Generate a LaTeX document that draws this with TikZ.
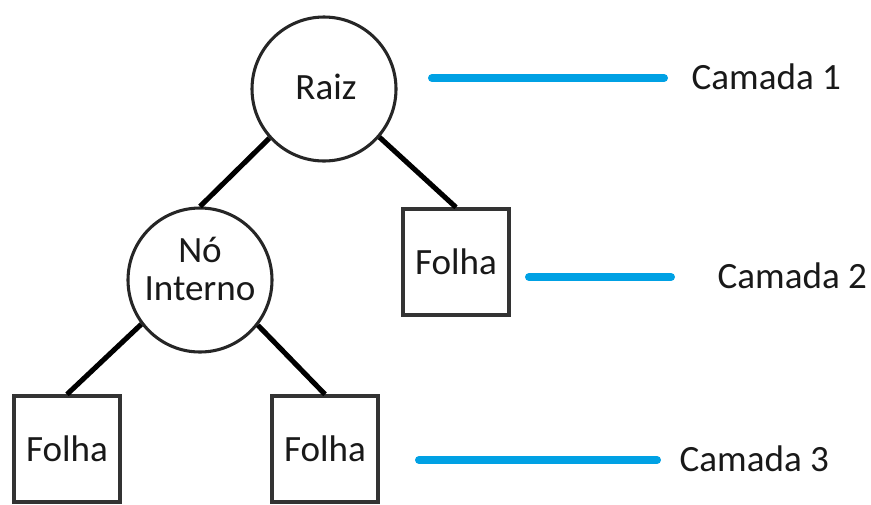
\documentclass[tikz,border=0pt]{standalone}
\usepackage{fontspec}
\setmainfont{Carlito}
\usepackage{tikz}
\usetikzlibrary{shapes,calc}
\definecolor{camadablue}{RGB}{0,161,228}

\begin{document}
\begin{tikzpicture}[x=0.75pt, y=-0.75pt]
\tikzstyle{txt}=[font=\fontsize{27.8}{30}\selectfont, text=black!90]
\tikzstyle{main}=[circle, draw=black!85, line width=2.3pt, fill=white, inner sep=0pt, minimum size=108pt, align=center, txt]
\tikzstyle{leaf}=[rectangle, draw=black!80, line width=3pt, fill=white, inner sep=0pt, minimum size=79pt, txt]
\tikzstyle{connect}=[line width=3.8pt, black]
\tikzstyle{layer}=[line width=6pt, camadablue, line cap=round]

  \useasboundingbox (0,0) rectangle (871,504);

  \coordinate (raizc) at (324,89);
  \coordinate (noc)   at (200,280);

  \node[main] (raiz) at (raizc) {};
  \node[txt]  (raiztxt) at ($(raizc)+(2,-2)$) {Raiz};
  \node[main] (no)   at (noc)   {};
  \node[txt, align=center] (notxt) at ($(noc)+(0,-11)$) {N\'o\\[-1pt]Interno};

  \node[leaf] (folhaA) at (456,262) {Folha};
  \node[leaf] (folhaB) at (67,449)  {Folha};
  \node[leaf] (folhaC) at (325,449) {Folha};

  \path (raiz.222) edge [connect] (no.north);
  \path (raiz.319) edge [connect] (folhaA.north);
  \path (no.217)   edge [connect] (folhaB.north);
  \path (no.322)   edge [connect] (folhaC.north);

  % layer markers
  \coordinate (c1a) at (432,78);
  \coordinate (c1b) at (664,78);
  \coordinate (c2a) at (529,277);
  \coordinate (c2b) at (671,277);
  \coordinate (c3a) at (419,460);
  \coordinate (c3b) at (657,460);

  \draw[layer] (c1a) -- (c1b);
  \draw[layer] (c2a) -- (c2b);
  \draw[layer] (c3a) -- (c3b);

  \node[txt, anchor=west] (cam1) at (687,77)  {Camada 1};
  \node[txt, anchor=west] (cam2) at (713,276) {Camada 2};
  \node[txt, anchor=west] (cam3) at (675,459) {Camada 3};

\end{tikzpicture}
\end{document}
